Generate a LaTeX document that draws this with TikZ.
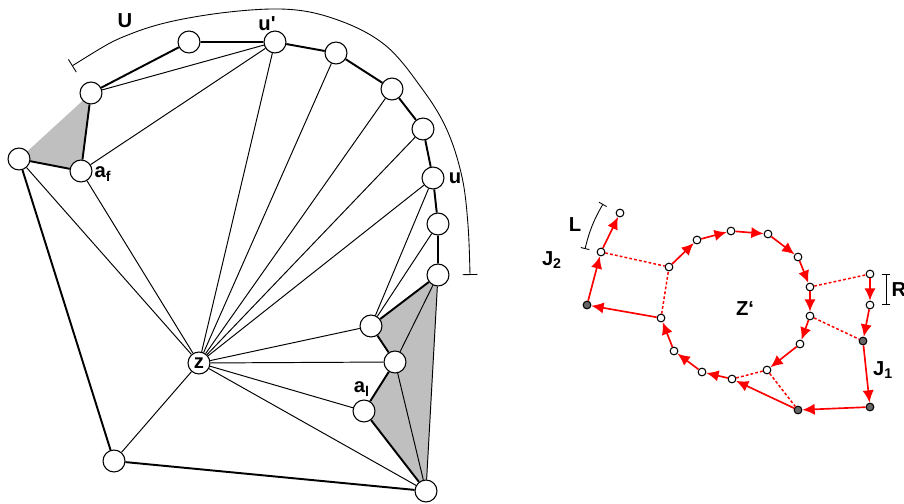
\documentclass[tikz,border=0pt]{standalone}
\usepackage{fontspec}
\setmainfont{Liberation Sans}
\usetikzlibrary{arrows.meta}
\pgfdeclarelayer{bg}
\pgfsetlayers{bg,main}

\begin{document}
\begin{tikzpicture}[x=0.02cm,y=-0.02cm,
  font=\fontsize{11.5}{13}\selectfont\bfseries,
  vtx/.style={circle,draw,fill=white,line width=.6pt,minimum size=12.5pt,inner sep=0pt},
  pt/.style={circle,draw,fill=white,line width=.6pt,minimum size=4.4pt,inner sep=0pt},
  gpt/.style={pt,fill=black!60},
  grayface/.style={fill=black!25},
  rim/.style={line width=1.1pt},
  spoke/.style={line width=.55pt},
  move/.style={-{Latex[length=7pt,width=6.4pt]},red,line width=.95pt},
  link/.style={red,line width=.85pt,dash pattern=on 1.6pt off 1.2pt},
  bracket/.style={{Bar[width=#1]}-{Bar[width=#1]},line width=.5pt},
  bracket/.default=8pt,
  lbl/.style={inner sep=0pt}]

\path[use as bounding box] (0,0) rectangle (904,504);

% left graph
\foreach \n/\x/\y in {lft/19/159,af/81/171,b1/91/93,b2/189/42,up/275/42,b3/336/53,
  b4/392/89,b5/423/129,u/433/178,b6/438/224,b7/438/275,c1/371/326,c2/395/362,
  al/364/411,bot/426/491,bl/114/461}
  \node[vtx] (\n) at (\x,\y) {};
\node[vtx] (z) at (199,363) {z};

\begin{pgfonlayer}{bg}
\fill[grayface] (lft.center) -- (b1.center) -- (af.center) -- cycle;
\fill[grayface] (b7.center) -- (c1.center) -- (c2.center) -- (al.center) -- (bot.center) -- cycle;
\end{pgfonlayer}

\draw[rim] (b1) -- (b2) -- (up) -- (b3) -- (b4) -- (b5) -- (u) -- (b6) -- (b7)
  -- (c1) -- (c2) -- (al) -- (bot) -- (bl) -- (lft) -- (af) -- (b1);
\foreach \s/\t in {b1/up,af/up,af/z,lft/z,up/z,b3/z,b4/z,b5/z,u/z,c1/z,c2/z,al/z,
  bot/z,bl/z,c1/u,c1/b6,b7/c2,c2/bot,b7/bot}
  \draw[spoke] (\s) -- (\t);

\draw[bracket=8.5pt] plot[smooth,tension=.6] coordinates {(72,66) (133,33) (200,16)
  (280,9) (335,19) (385,45) (423,90) (447,130) (462,177) (468,225) (470,275)};

\node[lbl] (lU) at (125,21) {U};
\node[lbl] (lup) at (267,24) {u\textquotesingle};
\node[lbl] (lu) at (455,178) {u};
\node[lbl] (laf) at (103,174) {a\textsubscript{f}};
\node[lbl] (lal) at (362,389) {a\textsubscript{l}};

% right graph
\foreach \n/\x/\y in {p1/620/213,p2/601/252,q1/669/267,q2/697/240,q3/731/231,
  q4/768/234,q5/798/257,q6/810/287,q7/810/316,q8/800/344,q9/767/370,q10/732/379,
  q11/702/372,q12/674/351,q13/661/318,r1/870/274,r2/870/305}
  \node[pt] (\n) at (\x,\y) {};
\foreach \n/\x/\y in {g1/587/305,g2/863/341,g3/870/407,g4/798/410}
  \node[gpt] (\n) at (\x,\y) {};

\foreach \s/\t in {g1/p2,p2/p1,q13/g1,q1/q2,q2/q3,q3/q4,q4/q5,q5/q6,q6/q7,q7/q8,
  q8/q9,q10/q11,q11/q12,q12/q13,r1/r2,r2/g2,g2/g3,g3/g4,g4/q10}
  \draw[move] (\s) -- (\t);
\foreach \s/\t in {p2/q1,q13/q1,q6/r1,q7/g2,q9/q10,q9/g4}
  \draw[link] (\s) -- (\t);

\draw[bracket=5pt] (603,204) to[bend right=8] (585,249);
\draw[bracket=5pt] (886,274) -- (886,305);

\node[lbl] (lL) at (575,225) {L};
\node[lbl] (lJ2) at (552,260) {J\textsubscript{2}};
\node[lbl] (lZ) at (745,309) {Z\textquoteleft};
\node[lbl] (lR) at (899,290) {R};
\node[lbl] (lJ1) at (883,370) {J\textsubscript{1}};

\end{tikzpicture}
\end{document}
